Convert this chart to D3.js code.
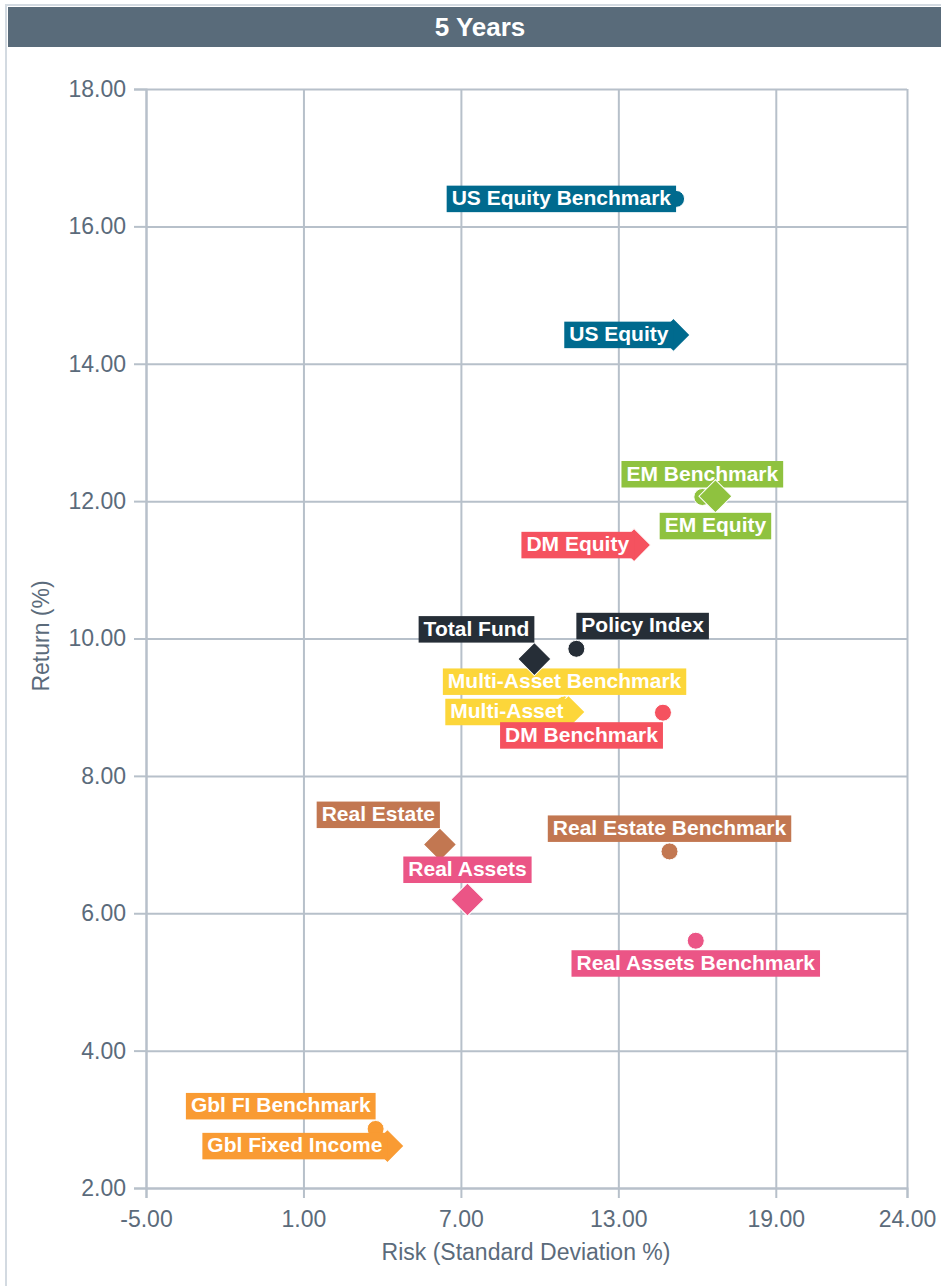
<!DOCTYPE html>
<html>
<head>
<meta charset="utf-8">
<script src="https://cdn.jsdelivr.net/npm/d3@7"></script>
<style>
  body { margin: 0; background: #fff; }
  text { font-family: "Liberation Sans", Arial, sans-serif; }
</style>
</head>
<body>
<div id="chart"></div>
<script>

      // series, in drawing order
      var names = ["US Equity Benchmark", "US Equity", "EM Benchmark", "EM Equity", "DM Equity",
                   "Multi-Asset Benchmark", "Total Fund", "Policy Index", "Multi-Asset", "DM Benchmark",
                   "Real Estate Benchmark", "Real Estate", "Real Assets", "Real Assets Benchmark",
                   "Gbl FI Benchmark", "Gbl Fixed Income"];
      var risk   = [15.2, 15.1, 16.2, 16.7, 13.6, 10.95, 9.8, 11.4, 11.1, 14.7, 14.95, 6.2, 7.25, 15.95, 3.75, 4.2];
      var ret    = [16.40, 14.42, 12.06, 12.07, 11.36, 9.04, 9.70, 9.85, 8.93, 8.92, 6.90, 7.00, 6.20, 5.60, 2.86, 2.61];
      var benchmark = [true, false, true, false, false, true, false, true, false, true, true, false, false, true, true, false];
      var group  = ["us", "us", "em", "em", "dm", "ma", "tf", "tf", "ma", "dm", "re", "re", "ra", "ra", "fi", "fi"];

      var xTicks = [-5, 1, 7, 13, 19, 24];
      var yTicks = [2, 4, 6, 8, 10, 12, 14, 16, 18];

      // label placement relative to the marker (layout only)
      var labelPos = ["l", "l", "t", "b", "l", "t", "tl", "tr", "l", "bl", "t", "tl", "t", "b", "tl", "l"];

      var colors = {
        us: "#006a8e", em: "#8fc23f", dm: "#f5525f", ma: "#fcd63a", tf: "#262e37",
        re: "#c27751", ra: "#eb5586", fi: "#f99b33"
      };

      var W = 941, H = 1286;
      var margin = {top: 89, right: 34, bottom: 98, left: 146};
      var width = W - margin.left - margin.right,
          height = H - margin.top - margin.bottom;

      var svg = d3.select("#chart").append("svg")
          .attr("width", W)
          .attr("height", H);

      // frame + title bar
      svg.append("rect")
          .attr("x", 6).attr("y", 5)
          .attr("width", W + 10).attr("height", H + 10)
          .attr("fill", "none")
          .attr("stroke", "#d3dae1")
          .attr("stroke-width", 2);
      svg.append("rect")
          .attr("x", 8).attr("y", 7)
          .attr("width", W).attr("height", 40)
          .attr("fill", "#596b7a");
      svg.append("text")
          .attr("x", 480).attr("y", 36)
          .attr("text-anchor", "middle")
          .attr("fill", "#fff")
          .attr("font-size", 26)
          .attr("font-weight", "bold")
          .text("5 Years");

      var canvas = svg.append("g")
          .attr("transform", "translate(" + margin.left + "," + margin.top + ")");

      var xScale = d3.scaleLinear().domain([-5, 24]).range([0, width]);
      var yScale = d3.scaleLinear().domain([2, 18]).range([height, 0]);

      var gridColor = "#b7c0ca";
      var textColor = "#5b6b7b";
      var fmt = function(d) { return d.toFixed(2); };   // plain hyphen for negatives

      // grids
      canvas.append("g")
          .attr("class", "x grid")
          .attr("transform", "translate(0," + height + ")")
          .call(d3.axisBottom(xScale).tickValues(xTicks).tickSize(-height).tickFormat(""))
          .call(function(g) { g.select(".domain").remove(); });
      canvas.append("g")
          .attr("class", "y grid")
          .call(d3.axisLeft(yScale).tickValues(yTicks).tickSize(-width).tickFormat(""))
          .call(function(g) { g.select(".domain").remove(); });
      canvas.selectAll(".grid line")
          .attr("stroke", gridColor)
          .attr("stroke-width", 2);

      // axes
      var xAxis = canvas.append("g")
          .attr("transform", "translate(0," + height + ")")
          .call(d3.axisBottom(xScale).tickValues(xTicks).tickSize(10).tickPadding(13).tickFormat(fmt));
      var yAxis = canvas.append("g")
          .call(d3.axisLeft(yScale).tickValues(yTicks).tickSize(12).tickPadding(8).tickFormat(fmt));

      [xAxis, yAxis].forEach(function(a) {
        a.select(".domain").attr("stroke", gridColor).attr("stroke-width", 2);
        a.selectAll(".tick line").attr("stroke", gridColor).attr("stroke-width", 2);
        a.selectAll(".tick text")
            .attr("fill", textColor)
            .attr("font-size", 23)
            .attr("font-family", "Liberation Sans, Arial, sans-serif");
      });

      svg.append("text")
          .attr("x", 526).attr("y", 1260)
          .attr("text-anchor", "middle")
          .attr("fill", textColor)
          .attr("font-size", 23)
          .text("Risk (Standard Deviation %)");
      svg.append("text")
          .attr("transform", "translate(49,636) rotate(-90)")
          .attr("text-anchor", "middle")
          .attr("fill", textColor)
          .attr("font-size", 23)
          .text("Return (%)");

      // points with their labels (label drawn over its own marker)
      var diamondHalf = 16.5, circleR = 8.5;
      var boxH = 26.5, pad = 5;

      names.forEach(function(name, i) {
        var cx = xScale(risk[i]), cy = yScale(ret[i]);
        var col = colors[group[i]];
        var r;
        var g = canvas.append("g");

        if (benchmark[i]) {
          r = circleR + 1;
          g.append("circle")
              .attr("cx", cx).attr("cy", cy).attr("r", circleR)
              .attr("fill", col)
              .attr("stroke", "#fff")
              .attr("stroke-width", 1);
        } else {
          r = diamondHalf;
          g.append("path")
              .attr("d", d3.symbol().type(d3.symbolSquare).size(2 * diamondHalf * diamondHalf)())
              .attr("transform", "translate(" + cx + "," + cy + ") rotate(45)")
              .attr("fill", col)
              .attr("stroke", "#fff")
              .attr("stroke-width", 1);
        }

        var box = g.append("rect").attr("fill", col);
        var txt = g.append("text")
            .attr("fill", "#fff")
            .attr("font-size", 21)
            .attr("font-weight", "bold")
            .text(name);
        var tw = txt.node().getComputedTextLength();
        var bw = tw + 2 * pad;

        var p = labelPos[i], bx, by;
        if (p === "l")  { bx = cx - bw;     by = cy - boxH / 2; }
        if (p === "t")  { bx = cx - bw / 2; by = cy - r - boxH; }
        if (p === "b")  { bx = cx - bw / 2; by = cy + r; }
        if (p === "tl") { bx = cx - bw;     by = cy - r - boxH; }
        if (p === "tr") { bx = cx;          by = cy - r - boxH; }
        if (p === "bl") { bx = cx - bw;     by = cy + r; }

        box.attr("x", bx).attr("y", by).attr("width", bw).attr("height", boxH);
        txt.attr("x", bx + pad).attr("y", by + 19.5);
      });

</script>
</body>
</html>
